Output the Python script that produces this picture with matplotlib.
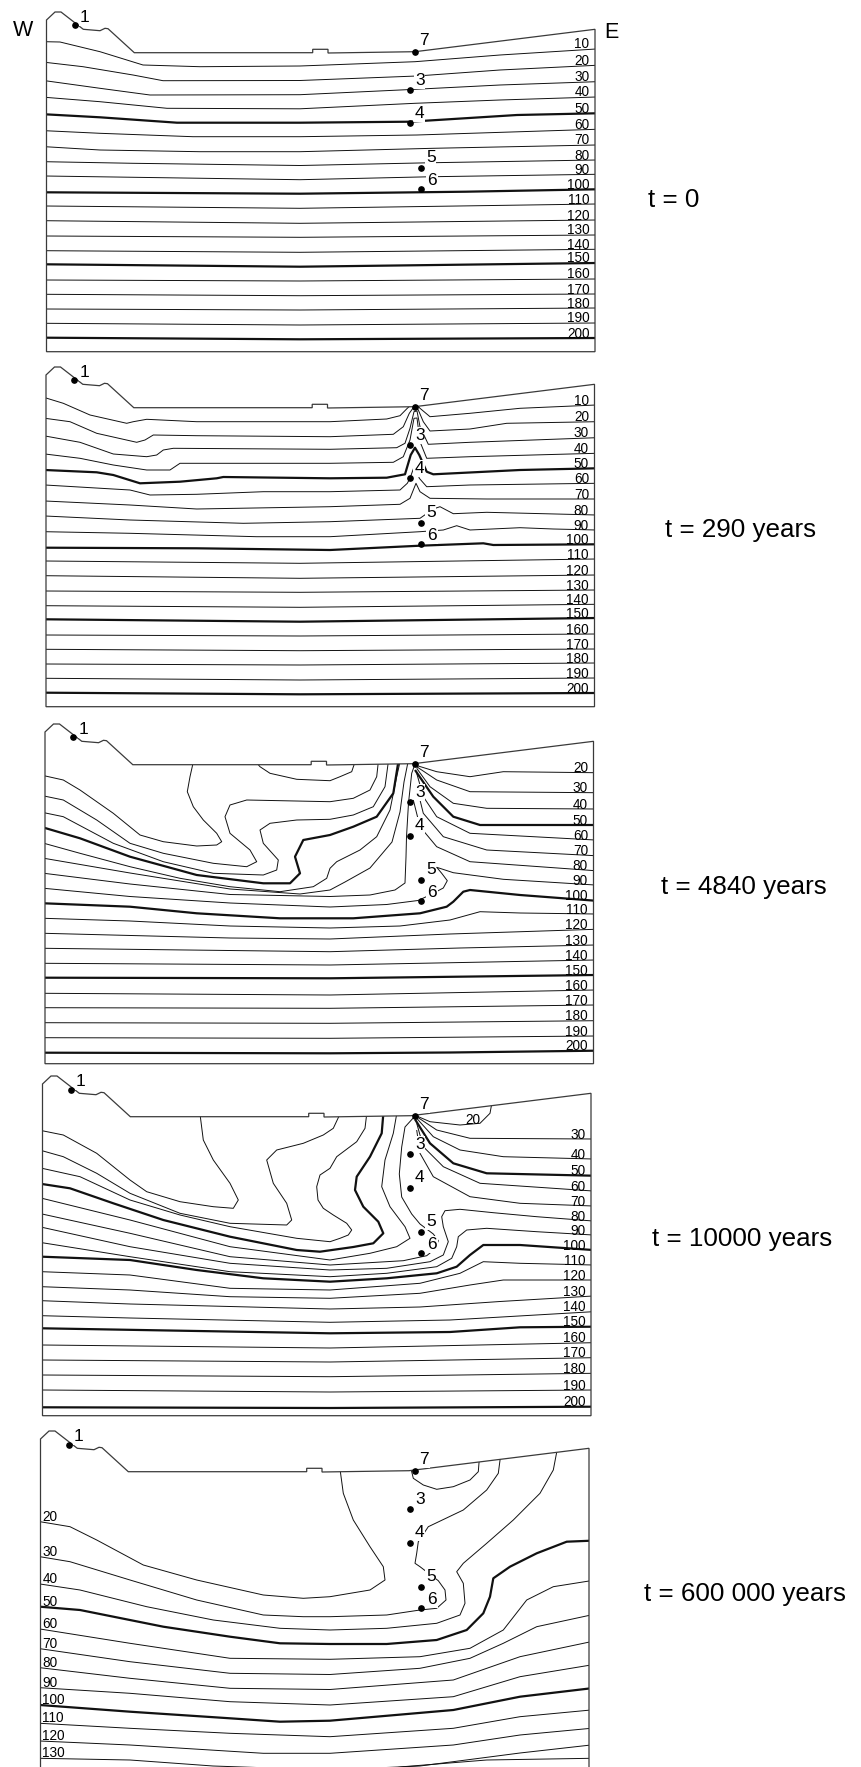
import matplotlib.pyplot as plt
from matplotlib.patches import Polygon

plt.rcParams['font.family'] = ['Liberation Sans', 'DejaVu Sans']

# ---------------- section geometry (px units of the t = 0 panel) ----------------
outline_x = [46.5, 46.5, 55, 61, 83.3, 100, 105, 108, 134.3, 312.7, 312.7, 328, 328, 415, 595, 595]
outline_y = [351.7, 20, 12, 12, 29.3, 30.7, 28.3, 28.7, 52.7, 52.7, 49.3, 49.3, 53, 51.7, 29.3, 351.7]
section_left = 46.5
section_right = 595

# observation points
point_names = ['1', '7', '3', '4', '5', '6']
point_x = [75, 415, 410, 410, 421.5, 421.5]
point_y = [25.5, 52, 90, 123.5, 168, 189]
point_label_x = [85, 424, 419.7, 419, 430.7, 432]
point_label_y = [21.7, 45, 85, 118.3, 161.7, 185]

time_labels = ['t = 0', 't = 290 years', 't = 4840 years', 't = 10000 years', 't = 600 000 years']

# ---------------- isotherms: (temperature, [(distance, depth), ...]) ----------------
deep_t0 = [
    (110, [(45, 206), (300, 208.3), (596, 204)]),
    (120, [(45, 220.7), (300, 223.3), (596, 220)]),
    (130, [(45, 236), (300, 237.3), (596, 235)]),
    (140, [(45, 250.7), (300, 252.3), (596, 249.3)]),
    (150, [(45, 264.3), (300, 266.7), (596, 263)]),
    (160, [(45, 280), (300, 281), (596, 279)]),
    (170, [(45, 294.3), (300, 295.7), (596, 294)]),
    (180, [(45, 309), (300, 310), (596, 308)]),
    (190, [(45, 323.3), (300, 325), (596, 323)]),
    (200, [(45, 337.7), (300, 339.3), (596, 338)]),
]

iso_t0 = [
    (10, [(45, 41.7), (60, 42), (100, 51.7), (143, 65), (200, 66.7), (300, 66), (415, 61.7), (500, 55), (596, 49)]),
    (20, [(45, 62.3), (83, 66.7), (133, 75), (163, 80.7), (300, 80.5), (417, 76), (500, 70), (596, 65.3)]),
    (30, [(45, 80.7), (100, 88.3), (150, 95), (300, 94.7), (415, 89.3), (500, 85), (596, 81.7)]),
    (40, [(45, 97.3), (100, 101.7), (167, 108.3), (300, 108.8), (415, 103.3), (500, 100), (596, 97)]),
    (50, [(45, 114.3), (100, 117.3), (177, 122.7), (300, 122.7), (410, 121.7), (517, 115), (596, 113.3)]),
    (60, [(45, 130.7), (100, 133.3), (193, 136.7), (300, 136.7), (417, 135), (596, 129.3)]),
    (70, [(45, 146.7), (100, 150), (200, 151.7), (300, 151.7), (433, 148.3), (596, 145)]),
    (80, [(45, 161.7), (133, 163.3), (300, 165.5), (433, 162.7), (596, 160)]),
    (90, [(45, 176), (300, 179.7), (433, 176.7), (596, 174.3)]),
    (100, [(45, 192.3), (300, 193.7), (466, 191.7), (596, 189.3)]),
] + deep_t0

iso_t290 = [
    (10, [(45, 42.7), (63.3, 48.3), (90, 60), (126.7, 68.3), (133.3, 66.7), (146.7, 64.3), (196.7, 66.7),
          (330, 66.7), (386.7, 64), (400, 60.7), (407.3, 53.3), (412, 49), (416, 49), (420, 53.3),
          (430, 61.7), (470, 58.3), (520, 53.3), (596, 50)]),
    (20, [(45, 63.3), (70, 66.7), (96.7, 78.3), (136.7, 87.3), (145, 85), (153.3, 80), (196.7, 80.7),
          (330, 81.7), (393.3, 79.3), (403.3, 71.7), (409.3, 58.3), (413.3, 52.7), (416, 52.5),
          (418.3, 55), (423.3, 66.7), (430, 76), (470, 74), (506.7, 68.3), (596, 66.7)]),
    (30, [(45, 81), (80, 87.3), (113.3, 99), (146.7, 101.7), (156.7, 100), (163.3, 95), (173.3, 93.3),
          (330, 94.3), (396.7, 92.7), (405, 88.3), (410, 73.3), (414, 56.7), (417, 56), (420, 71.7),
          (428.3, 89.3), (470, 87.3), (596, 82.7)]),
    (40, [(45, 99), (80, 103.3), (113.3, 110), (146.7, 115), (170, 115), (180, 108.3), (330, 108.3),
          (393.3, 107.3), (403.3, 101.7), (410, 85), (414, 63.3), (417, 63), (420, 86.7), (426.7, 103.3),
          (470, 101.7), (596, 98.3)]),
    (50, [(45, 115), (96.7, 117.3), (113.3, 120), (140, 128.3), (180, 126.7), (216.7, 123.3), (223.3, 122),
          (330, 123.3), (386.7, 122.7), (405, 119.3), (410.7, 100), (415, 92.7), (419.3, 100),
          (426.7, 116.7), (433.3, 119.3), (520, 115), (596, 113.3)]),
    (60, [(45, 130), (130, 135), (150, 140), (196.7, 139.3), (263.3, 136.7), (330, 136.7), (400, 135),
          (407.3, 128.3), (410, 123.3), (414.7, 110), (419.3, 123.3), (426.7, 131.7), (470, 130),
          (596, 128.3)]),
    (70, [(45, 146), (130, 150), (196.7, 154), (330, 151.7), (400, 149.3), (410, 143.3), (416, 128.3),
          (420, 136.7), (430, 143.3), (486.7, 144), (596, 144)]),
    (80, [(45, 161), (130, 165), (243.3, 168.3), (330, 166.7), (420, 163.3), (433.3, 154), (440, 151.7),
          (453.3, 158.7), (486.7, 157.3), (596, 160)]),
    (90, [(45, 176.7), (130, 178.3), (256.7, 181.7), (330, 181.7), (420, 176.7), (443.3, 175),
          (456.7, 170.7), (470, 175), (520, 172.7), (553.3, 174), (596, 175)]),
    (100, [(45, 192.7), (196.7, 193.3), (330, 195), (420, 190.7), (483.3, 188.3), (493.3, 190), (596, 189.3)]),
] + deep_t0

iso_t4840 = [
    (10, [(256, 50), (260, 54.7), (270, 61.3), (296.7, 67.3), (330, 68.7), (340, 64.7), (351.7, 59.7), (355, 50)]),
    (20, [(44, 63.7), (63.3, 68), (80, 78), (113.3, 101.3), (140, 123), (163.3, 129.7), (196.7, 134),
          (216.7, 133), (221.7, 129.7), (216.7, 121.3), (203.3, 108), (193.3, 94.7), (187.3, 79.7),
          (190, 64.7), (193.3, 50)]),
    (20, [(415, 53), (436.7, 59.7), (470, 64.7), (503.3, 59.7), (595, 60.7)]),
    (30, [(44, 84), (63.3, 88), (96.7, 108), (130, 131.3), (163.3, 141.3), (213.3, 151.3), (246.7, 154.7),
          (256.7, 149.7), (250, 138), (230, 121.3), (225, 104.7), (230, 93), (246.7, 88), (330, 89.7),
          (353.3, 86.3), (370, 78), (376.7, 64.7), (378.3, 50)]),
    (30, [(416.7, 54.7), (436.7, 68), (470, 79.7), (595, 80.7)]),
    (40, [(44, 100.7), (63.3, 104.7), (113.3, 131.3), (163.3, 149.7), (213.3, 161.3), (263.3, 163),
          (276.7, 158), (278.3, 148), (263.3, 131.3), (260, 118), (270, 111.3), (296.7, 108), (330, 107.3),
          (353.3, 103), (373.3, 94.7), (385, 74.7), (388.3, 50)]),
    (40, [(416.7, 56.3), (430, 74.7), (453.3, 91.3), (486.7, 96.3), (595, 97)]),
    (50, [(44, 115.7), (80, 126.3), (130, 144.7), (196.7, 163), (263.3, 171.3), (290, 171.3), (300, 161.3),
          (295, 144.7), (303.3, 128), (330, 123), (353.3, 114.7), (376.7, 104.7), (393.3, 81.3), (398.3, 50)]),
    (50, [(415, 58), (433.3, 84.7), (453.3, 104.7), (480, 113), (595, 113)]),
    (60, [(44, 131.3), (80, 141.3), (130, 154.7), (180, 166.3), (230, 174.7), (280, 179.7), (313.3, 174.7),
          (326.7, 166.3), (330, 156.3), (336.7, 149.7), (360, 138), (376.7, 124.7), (390, 98),
          (396.7, 64.7), (400, 50)]),
    (60, [(416.7, 61.3), (423.3, 84.7), (436.7, 104.7), (470, 121.3), (595, 128)]),
    (70, [(44, 146.3), (130, 161), (230, 177), (300, 182), (330, 178), (345, 170), (370, 156), (392, 130),
          (400, 100), (404, 70), (408, 50)]),
    (70, [(416.7, 74.7), (423.3, 101.3), (443.3, 124.7), (486.7, 138), (595, 143.7)]),
    (80, [(44, 161.3), (130, 172), (230, 182.5), (330, 184.5), (370, 183), (395, 178), (405, 171),
          (406, 145), (406.5, 125), (408.5, 91), (411.7, 61.3), (415, 52)]),
    (80, [(413.3, 88), (420, 114.7), (436.7, 134.7), (470, 149.7), (595, 158.7)]),
    (90, [(44, 176.3), (130, 184.5), (230, 191), (330, 195), (386.7, 192.5), (418, 188.5), (430, 183),
          (443.3, 176), (447.3, 168.7), (441.7, 161.3), (436.7, 155.3), (453.3, 160.7), (503.3, 167.3),
          (595, 173)]),
    (100, [(44, 191.3), (130, 194.7), (196.7, 201.3), (280, 206.3), (330, 206.3), (353.3, 206.3),
           (420, 201.3), (446.7, 194.7), (453.3, 189.7), (463.3, 179.7), (470, 178), (520, 183), (595, 188.7)]),
    (110, [(44, 206.3), (130, 209), (230, 214), (330, 216), (400, 214), (450, 208), (480, 199.7), (520, 201), (595, 202)]),
    (120, [(44, 221.3), (230, 226), (330, 227), (450, 222), (595, 217.3)]),
    (130, [(44, 236.3), (330, 239.7), (460, 236), (595, 233)]),
    (140, [(44, 251.3), (330, 253), (595, 248)]),
    (150, [(44, 265.7), (330, 266.3), (595, 263)]),
    (160, [(44, 281.3), (330, 283), (595, 278)]),
    (170, [(44, 295.7), (330, 296.3), (595, 293)]),
    (180, [(44, 310.7), (330, 311.3), (595, 308.7)]),
    (190, [(44, 325.7), (330, 326.3), (595, 324)]),
    (200, [(44, 340.7), (330, 341.3), (450, 340.5), (595, 338.7)]),
]

iso_t10000 = [
    (20, [(42, 66.7), (63.3, 71), (96.7, 89.3), (130, 116), (146.7, 127.7), (180, 137.7), (213.3, 142.7),
          (233.3, 144.3), (238.3, 136), (230, 119.3), (213.3, 96), (203.3, 76), (200, 50)]),
    (20, [(414, 50), (416.7, 52), (430, 57.7), (460, 61), (480, 59.3), (490, 49.3), (491.7, 40)]),
    (30, [(42, 86.7), (63.3, 92.7), (96.7, 109.3), (130, 129.3), (180, 149.3), (230, 159.3), (286.7, 161),
          (291.7, 156), (286.7, 139.3), (273.3, 119.3), (266.7, 96), (276.7, 86), (303.3, 79.3),
          (323.3, 71), (333.3, 64.3), (340, 50)]),
    (30, [(416.7, 52.7), (436.7, 66), (470, 74.3), (593, 75)]),
    (40, [(42, 104.3), (80, 112.7), (130, 136), (180, 151), (230, 162.7), (296.7, 174.3), (330, 177.7),
          (340, 174.3), (348.3, 171), (351.7, 166), (346.7, 159.3), (333.3, 151), (323.3, 144.3),
          (318, 136), (316.7, 122.7), (320, 111), (330, 104.3), (336.7, 92.7), (356.7, 77.7),
          (365, 64.3), (366.7, 50)]),
    (40, [(416.7, 54.3), (433.3, 72.7), (460, 86), (503.3, 92.7), (593, 95)]),
    (50, [(42, 120), (70, 124.3), (113.3, 139.3), (163.3, 156), (230, 172.7), (296.7, 186), (320, 187.7),
          (353.3, 183), (373.3, 179.3), (383.3, 169.3), (378.3, 157.7), (363.3, 142.7), (355, 126),
          (356.7, 112.7), (370, 92.7), (381.7, 69.3), (383.3, 50)]),
    (50, [(415, 55.3), (430, 79.3), (453.3, 99.3), (486.7, 109.3), (593, 111.7)]),
    (60, [(42, 134.3), (130, 156), (230, 182.7), (330, 196), (370, 189.3), (396.7, 182.7), (410, 174.3),
          (405, 162.7), (390, 142.7), (381.7, 122.7), (385, 96), (393.3, 69.3), (396.7, 50)]),
    (60, [(416.7, 59.3), (423.3, 82.7), (443.3, 102.7), (480, 119.3), (593, 127)]),
    (70, [(42, 150), (130, 169.3), (230, 192.7), (330, 201), (403.3, 196.7), (426.7, 191.7), (435, 185),
          (438.3, 176.7), (433.3, 170), (420, 160), (411.7, 150), (401.7, 133), (399.3, 110),
          (401.7, 83), (405, 63), (415, 52)]),
    (70, [(416.7, 66), (420, 89.3), (433.3, 112.7), (470, 132.7), (520, 139.3), (593, 142)]),
    (80, [(42, 163.3), (130, 182.7), (230, 199.3), (330, 206), (386.7, 204.3), (430, 197.7), (443.3, 191),
          (448.3, 177.7), (443.3, 162.7), (441.7, 152.7), (445, 146.7), (460, 145.3), (493.3, 148.7),
          (536.7, 152.7), (593, 157)]),
    (90, [(42, 178.7), (130, 192.7), (230, 207.7), (330, 212.7), (386.7, 209.3), (436.7, 202.7),
          (451.7, 194.3), (456.7, 182.7), (458.3, 172.7), (466.7, 166), (486.7, 164.3), (536.7, 167.7),
          (593, 171)]),
    (100, [(42, 192.7), (130, 196), (196.7, 206), (263.3, 214.3), (330, 217.7), (386.7, 214.3),
           (436.7, 209.3), (456.7, 202.7), (470, 191), (483.3, 181), (520, 181), (593, 186)]),
    (110, [(42, 207.7), (130, 211), (230, 224.3), (330, 226), (420, 219.3), (460, 209.3), (483.3, 197.7),
           (520, 199.3), (593, 201)]),
    (120, [(42, 222.7), (130, 226), (230, 232.7), (330, 234.3), (420, 229.3), (470, 221), (503.3, 216), (593, 216)]),
    (130, [(42, 236.7), (130, 240), (330, 245), (420, 243), (500, 237.5), (593, 232)]),
    (140, [(42, 251.7), (130, 254), (330, 258.3), (450, 256), (593, 247.7)]),
    (150, [(42, 264.3), (330, 269.3), (450, 268), (520, 263.3), (593, 262.7)]),
    (160, [(42, 281), (330, 284), (593, 278.7)]),
    (170, [(42, 296), (330, 298), (593, 293.7)]),
    (180, [(42, 311), (330, 312.7), (593, 309.3)]),
    (190, [(42, 326), (330, 328), (593, 326)]),
    (200, [(42, 343.3), (330, 344), (593, 342.7)]),
]

iso_t600000 = [
    (10, [(411, 50), (411.7, 52.7), (413.3, 59.3), (423.3, 66), (436.7, 70.3), (453.3, 67.7), (470, 61),
          (478.3, 52.7), (479.3, 40)]),
    (20, [(40, 102.7), (70, 107.7), (96.7, 121), (143.3, 146), (196.7, 161), (263.3, 176), (303.3, 179.3),
          (330, 177.7), (370, 171), (385, 161), (383.3, 147.7), (370, 127.7), (353.3, 101), (343.3, 74.3),
          (340, 50)]),
    (30, [(40, 137.7), (70, 142.7), (130, 161), (196.7, 181), (263.3, 196), (303.3, 197.7), (330, 197.7),
          (386.7, 196), (420, 191), (436.7, 189.3), (446, 181), (445, 171), (438.3, 161.7), (420, 147.7),
          (415, 144.3), (416.7, 134.3), (418.3, 122.7), (428.3, 107.7), (463.3, 91), (486.7, 71),
          (498.3, 54.3), (500.7, 36)]),
    (40, [(40, 165), (80, 171), (146.7, 187.7), (213.3, 201), (280, 209.3), (330, 211), (386.7, 209.3),
          (436.7, 204.3), (460, 196), (465, 184.3), (463.3, 164.3), (456.7, 152.7), (463.3, 144.3),
          (486.7, 124.3), (513.3, 101), (540, 74.3), (553.3, 51), (557.3, 30)]),
    (50, [(40, 187.7), (80, 191), (163.3, 207.7), (230, 217.7), (280, 224.3), (330, 225), (386.7, 225),
          (436.7, 221), (466.7, 211), (483.3, 194.3), (490, 177.7), (493.3, 159.3), (510, 147.7),
          (536.7, 134.3), (566.7, 122.7), (591, 121.7)]),
    (60, [(40, 210), (130, 224.3), (230, 239.3), (330, 240.3), (420, 237.7), (470, 229.3), (503.3, 211),
          (526.7, 181), (553.3, 167.7), (591, 161.7)]),
    (70, [(40, 229.7), (130, 242.7), (230, 254.3), (330, 255.5), (420, 249.3), (470, 239.3), (503.3, 224.3),
          (536.7, 207.7), (591, 196)]),
    (80, [(40, 248.7), (130, 259.3), (230, 269.3), (330, 270.5), (453.3, 261), (520, 237.7), (591, 222.7)]),
    (90, [(40, 268.7), (130, 274.3), (230, 282.7), (330, 286), (453.3, 277.7), (520, 257.7), (591, 246)]),
    (100, [(40, 286), (130, 292.7), (230, 299.3), (280, 302.7), (330, 301.7), (453.3, 291), (520, 277.7), (591, 269.3)]),
    (110, [(40, 304.3), (130, 309.3), (230, 314.3), (330, 317.7), (453.3, 309.3), (520, 297.7), (591, 291)]),
    (120, [(40, 322), (130, 326), (263.3, 334.3), (330, 334.3), (453.3, 326), (520, 316), (591, 309.3)]),
    (130, [(40, 339.3), (130, 341), (213, 347), (330, 351), (420, 347), (520, 334), (591, 326)]),
    (140, [(300, 362), (403.3, 347.7), (486.7, 341), (591, 339.3)]),
]

# ---------------- layout ----------------
panel_top = [0, 355, 712, 1064, 1419]
panel_dx = [0, -0.5, -1.5, -4, -6]
label_side = ['right', 'right', 'right', 'right', 'left']
time_x = [673.8, 740.8, 744, 742, 745]
time_base = [206.7, 181.7, 181.7, 181.7, 181.7]
inner_labels = {3: [('20', 473.3, 60)]}
panel_lines = [iso_t0, iso_t290, iso_t4840, iso_t10000, iso_t600000]

fig = plt.figure(figsize=(8.62, 17.67), dpi=100)
ax = fig.add_axes([0, 0, 1, 1])
ax.set_xlim(0, 862)
ax.set_ylim(1767, 0)
ax.axis('off')

for i, lines in enumerate(panel_lines):
    y0 = panel_top[i]
    dx = panel_dx[i]
    left = section_left + dx
    right = section_right + dx

    poly = Polygon([(x + dx, y + y0) for x, y in zip(outline_x, outline_y)], closed=True,
                   fill=False, ec='#3a3a3a', lw=0.9, zorder=3)
    ax.add_patch(poly)

    for level, pts in lines:
        xs = [p[0] for p in pts]
        ys = [p[1] + y0 for p in pts]
        thick = level % 50 == 0
        ln, = ax.plot(xs, ys, color='#111111', lw=1.6 if thick else 0.7,
                      solid_joinstyle='round', solid_capstyle='butt', zorder=2)
        ln.set_clip_path(poly)

        # temperature labels where the isotherm meets the panel edge
        if label_side[i] == 'right' and pts[-1][0] >= right - 3:
            ax.text(right - 5.5, pts[-1][1] + y0 - 0.5, str(level), fontsize=9.8,
                    ha='right', va='baseline', zorder=4)
        if label_side[i] == 'left' and pts[0][0] <= left + 3 and pts[0][1] < 345:
            ax.text(left + 1.8, pts[0][1] + y0 - 1.2, str(level), fontsize=9.8,
                    ha='left', va='baseline', zorder=4)

    for txt, lx, ly in inner_labels.get(i, []):
        ax.text(lx, ly + y0, txt, fontsize=9.8, ha='center', va='baseline', zorder=4)

    # observation points
    for k, name in enumerate(point_names):
        shift = dx if name == '1' else 0
        ax.plot(point_x[k] + shift, point_y[k] + y0, 'o', ms=3.8, color='k', zorder=6)
        ax.text(point_label_x[k] + shift, point_label_y[k] + y0, name, fontsize=12.5,
                ha='center', va='baseline', zorder=5,
                bbox=dict(boxstyle='square,pad=0.05', fc='white', ec='none'))

    ax.text(time_x[i], time_base[i] + y0, time_labels[i], fontsize=18.7,
            ha='center', va='baseline')

ax.text(23.3, 36, 'W', fontsize=15.5, ha='center', va='baseline')
ax.text(611, 38.3, 'E', fontsize=15.5, ha='center', va='baseline')

fig.savefig('out.png', dpi=100)
